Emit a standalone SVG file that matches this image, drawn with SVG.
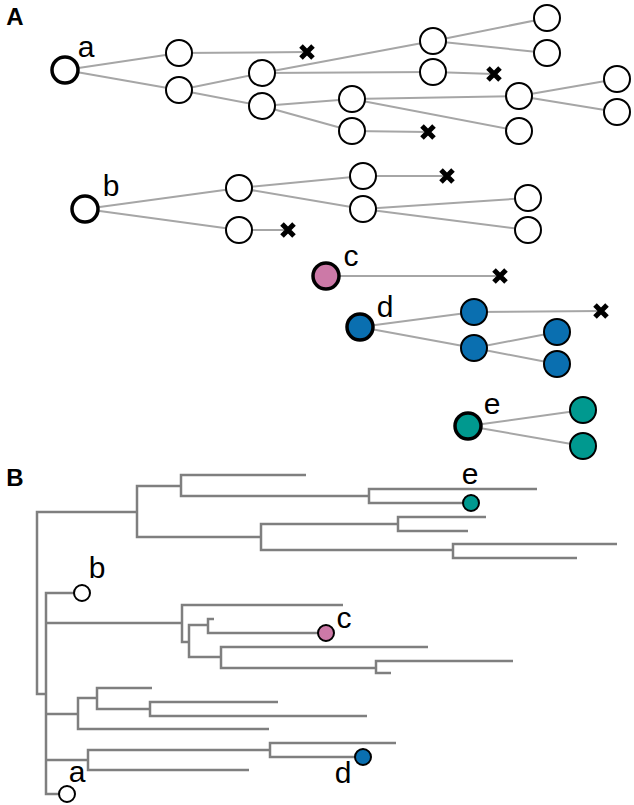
<svg xmlns="http://www.w3.org/2000/svg" width="634" height="805" viewBox="0 0 634 805">
<defs>
<style>
.lbl{font-family:"Liberation Sans",Arial,sans-serif;font-size:30px;fill:#000;text-anchor:middle}
.pl{font-family:"Liberation Sans",Arial,sans-serif;font-size:24px;font-weight:bold;fill:#000;text-anchor:middle}
.ca line{stroke:#a6a6a6;stroke-width:2}
.cb path{stroke:#7f7f7f;stroke-width:2.5;fill:none;stroke-linejoin:miter}
.n{stroke:#000;stroke-width:2;fill:#fff}
.r{stroke:#000;stroke-width:3.5}
.sb{stroke:#000;stroke-width:2}
.w{fill:#fff}.p{fill:#cc79a7}.bl{fill:#0a6fb0}.t{fill:#00998f}
</style>
<path id="x" d="M-6,-6 L6,6 M6,-6 L-6,6" stroke="#000" stroke-width="5" fill="none"/>
</defs>
<rect width="634" height="805" fill="#fff"/>
<text class="pl" x="15" y="25">A</text>
<text class="pl" x="15" y="486">B</text>

<g id="connectors-A" class="ca">
<line x1="65" y1="70" x2="179" y2="53"/><line x1="65" y1="70" x2="179" y2="90"/>
<line x1="179" y1="53" x2="307" y2="52"/>
<line x1="179" y1="90" x2="262" y2="73"/><line x1="179" y1="90" x2="262" y2="106"/>
<line x1="262" y1="73" x2="433" y2="41"/><line x1="262" y1="73" x2="433" y2="72"/>
<line x1="433" y1="41" x2="547" y2="18"/><line x1="433" y1="41" x2="547" y2="53"/>
<line x1="433" y1="72" x2="494" y2="74"/>
<line x1="262" y1="106" x2="352" y2="99"/><line x1="262" y1="106" x2="352" y2="131"/>
<line x1="352" y1="99" x2="519" y2="96"/><line x1="352" y1="99" x2="519" y2="131"/>
<line x1="352" y1="131" x2="428" y2="132"/>
<line x1="519" y1="96" x2="617" y2="79"/><line x1="519" y1="96" x2="617" y2="112"/>
<line x1="85" y1="209" x2="239" y2="188"/><line x1="85" y1="209" x2="239" y2="230"/>
<line x1="239" y1="230" x2="288" y2="230"/>
<line x1="239" y1="188" x2="363" y2="176"/><line x1="239" y1="188" x2="363" y2="209"/>
<line x1="363" y1="176" x2="447" y2="176"/>
<line x1="363" y1="209" x2="528" y2="198"/><line x1="363" y1="209" x2="528" y2="230"/>
<line x1="326" y1="276" x2="500" y2="276"/>
<line x1="360" y1="327" x2="474" y2="312"/><line x1="360" y1="327" x2="474" y2="348"/>
<line x1="474" y1="312" x2="601" y2="311"/>
<line x1="474" y1="348" x2="557" y2="332"/><line x1="474" y1="348" x2="557" y2="364"/>
<line x1="468" y1="426" x2="583" y2="410"/><line x1="468" y1="426" x2="583" y2="446"/>
</g>

<g id="lineage-a">
<g id="a-root"><circle class="r w" cx="65" cy="70" r="13"/><text class="lbl" x="86" y="57">a</text></g>
<g id="a1"><circle class="n" cx="179" cy="53" r="13"/></g>
<g id="a2"><circle class="n" cx="179" cy="90" r="13"/></g>
<g id="a-x1"><use href="#x" x="307" y="52"/></g>
<g id="a3"><circle class="n" cx="262" cy="73" r="13"/></g>
<g id="a4"><circle class="n" cx="262" cy="106" r="13"/></g>
<g id="a5"><circle class="n" cx="433" cy="41" r="13"/></g>
<g id="a6"><circle class="n" cx="433" cy="72" r="13"/></g>
<g id="a-x2"><use href="#x" x="494" y="74"/></g>
<g id="a7"><circle class="n" cx="352" cy="99" r="13"/></g>
<g id="a8"><circle class="n" cx="352" cy="131" r="13"/></g>
<g id="a-x3"><use href="#x" x="428" y="132"/></g>
<g id="a9"><circle class="n" cx="547" cy="18" r="13"/></g>
<g id="a10"><circle class="n" cx="547" cy="53" r="13"/></g>
<g id="a11"><circle class="n" cx="519" cy="96" r="13"/></g>
<g id="a12"><circle class="n" cx="519" cy="131" r="13"/></g>
<g id="a13"><circle class="n" cx="617" cy="79" r="13"/></g>
<g id="a14"><circle class="n" cx="617" cy="112" r="13"/></g>
</g>

<g id="lineage-b">
<g id="b-root"><circle class="r w" cx="85" cy="209" r="13"/><text class="lbl" x="111" y="196">b</text></g>
<g id="b1"><circle class="n" cx="239" cy="188" r="13"/></g>
<g id="b2"><circle class="n" cx="239" cy="230" r="13"/></g>
<g id="b-x1"><use href="#x" x="288" y="230"/></g>
<g id="b3"><circle class="n" cx="363" cy="176" r="13"/></g>
<g id="b4"><circle class="n" cx="363" cy="209" r="13"/></g>
<g id="b-x2"><use href="#x" x="447" y="176"/></g>
<g id="b5"><circle class="n" cx="528" cy="198" r="13"/></g>
<g id="b6"><circle class="n" cx="528" cy="230" r="13"/></g>
</g>

<g id="lineage-c">
<g id="c-root"><circle class="r p" cx="326" cy="276" r="13"/><text class="lbl" x="351" y="266">c</text></g>
<g id="c-x1"><use href="#x" x="500" y="276"/></g>
</g>

<g id="lineage-d">
<g id="d-root"><circle class="r bl" cx="360" cy="327" r="13"/><text class="lbl" x="385" y="317">d</text></g>
<g id="d1"><circle class="sb bl" cx="474" cy="312" r="13"/></g>
<g id="d2"><circle class="sb bl" cx="474" cy="348" r="13"/></g>
<g id="d-x1"><use href="#x" x="601" y="311"/></g>
<g id="d3"><circle class="sb bl" cx="557" cy="332" r="13"/></g>
<g id="d4"><circle class="sb bl" cx="557" cy="364" r="13"/></g>
</g>

<g id="lineage-e">
<g id="e-root"><circle class="r t" cx="468" cy="426" r="13"/><text class="lbl" x="492" y="414">e</text></g>
<g id="e1"><circle class="sb t" cx="583" cy="410" r="13"/></g>
<g id="e2"><circle class="sb t" cx="583" cy="446" r="13"/></g>
</g>

<g id="connectors-B" class="cb">
<path d="M137,512 H37 V694 H46"/>
<path d="M181,486 H137 V537 H261"/>
<path d="M306,475 H181 V496 H369"/>
<path d="M537,489 H369 V503 H463"/>
<path d="M398,524 H261 V550 H453"/>
<path d="M486,517 H398 V531 H468"/>
<path d="M617,544 H453 V558 H577"/>
<path d="M74,593 H46 V794 H59"/>
<path d="M46,623 H182"/>
<path d="M46,714 H78"/>
<path d="M46,760 H88"/>
<path d="M343,605 H182 V642 H189"/>
<path d="M208,625 H189 V657 H221"/>
<path d="M214,619 H208 V633 H318"/>
<path d="M428,647 H221 V668 H376"/>
<path d="M513,661 H376 V673 H391"/>
<path d="M97,698 H78 V729 H269"/>
<path d="M152,688 H97 V709 H150"/>
<path d="M278,702 H150 V716 H367"/>
<path d="M270,750 H88 V770 H249"/>
<path d="M396,743 H270 V757 H355"/>
</g>

<g id="tip-e"><circle class="sb t" cx="471" cy="503" r="8"/><text class="lbl" x="470" y="484">e</text></g>
<g id="tip-b"><circle class="sb w" cx="82" cy="593" r="8"/><text class="lbl" x="97" y="578">b</text></g>
<g id="tip-c"><circle class="sb p" cx="326" cy="633" r="8"/><text class="lbl" x="344" y="628">c</text></g>
<g id="tip-d"><circle class="sb bl" cx="363" cy="757" r="8"/><text class="lbl" x="343" y="783">d</text></g>
<g id="tip-a"><circle class="sb w" cx="67" cy="794" r="8"/><text class="lbl" x="77" y="782">a</text></g>
</svg>
